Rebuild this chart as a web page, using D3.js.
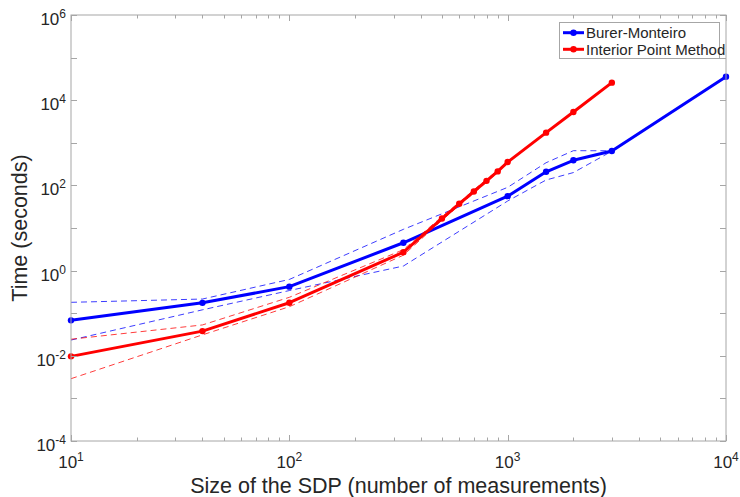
<!DOCTYPE html>
<html>
<head>
<meta charset="utf-8">
<script src="https://cdn.jsdelivr.net/npm/d3@7"></script>
<style>
html,body{margin:0;padding:0;background:#fff;}
svg{display:block;}
text{font-family:"Liberation Sans",Arial,Helvetica,sans-serif;fill:#262626;}
</style>
</head>
<body>
<svg id="chart" width="740" height="497"></svg>
<script>
// ---- data ----
const bmSizes = [10, 40, 100, 333, 1000, 1500, 2000, 3000, 10000];
const bmMean  = [0.068, 0.175, 0.42, 4.5, 56, 209, 389, 642, 35500];
const bmRangeSizes = [10, 40, 100, 333, 1000, 1500, 2000, 3000];
const bmMax   = [0.18, 0.215, 0.62, 9.3, 90, 341, 653, 650];
const bmMin   = [0.0234, 0.12, 0.34, 1.28, 43, 134, 200, 635];

const ipmSizes = [10, 40, 100, 333, 500, 600, 700, 800, 900, 1000, 1500, 2000, 3000];
const ipmMean  = [0.0097, 0.038, 0.176, 2.7, 16.7, 37, 72, 128, 213, 353, 1730, 5300, 25800];
const ipmRangeSizes = [10, 40, 100, 333, 500, 600, 700, 800, 900, 1000];
const ipmMax   = [0.0245, 0.053, 0.236, 3.1, 18.5, 40, 78, 138, 226, 362];
const ipmMin   = [0.0029, 0.031, 0.142, 2.3, 15.2, 34, 66, 119, 201, 345];

const xTickExps = [1, 2, 3, 4];
const yTickExps = [-4, -2, 0, 2, 4, 6];
const seriesNames = ["Burer-Monteiro", "Interior Point Method"];
const seriesColors = ["#0000ff", "#ff0000"];

// ---- layout ----
const svg = d3.select("#chart");
const L = 71, T = 15, R = 726, B = 441;
const x = d3.scaleLog().domain([10, 1e4]).range([L, R]);
const y = d3.scaleLog().domain([1e-4, 1e6]).range([B, T]);
const axisColor = "#a6a6a6";

const pts = (xs, ys) => xs.map((v, i) => [v, ys[i]]);
const line = d3.line().x(d => x(d[0])).y(d => y(d[1]));

const plot = svg.append("g");

function dashed(xs, ys, color) {
  plot.append("path").datum(pts(xs, ys)).attr("d", line)
    .attr("fill", "none").attr("stroke", color).attr("stroke-width", 0.9)
    .attr("stroke-dasharray", "6,4").attr("opacity", 0.85);
}
function solid(xs, ys, color) {
  const data = pts(xs, ys);
  plot.append("path").datum(data).attr("d", line)
    .attr("fill", "none").attr("stroke", color).attr("stroke-width", 3)
    .attr("stroke-linejoin", "round");
  plot.selectAll(null).data(data).enter().append("circle")
    .attr("cx", d => x(d[0])).attr("cy", d => y(d[1])).attr("r", 3.2)
    .attr("fill", color);
}
solid(bmSizes, bmMean, seriesColors[0]);
dashed(bmRangeSizes, bmMax, seriesColors[0]);
dashed(bmRangeSizes, bmMin, seriesColors[0]);
solid(ipmSizes, ipmMean, seriesColors[1]);
dashed(ipmRangeSizes, ipmMax, seriesColors[1]);
dashed(ipmRangeSizes, ipmMin, seriesColors[1]);

// ---- axes box & ticks ----
const ax = svg.append("g");
ax.append("rect").attr("x", L).attr("y", T).attr("width", R - L).attr("height", B - T)
  .attr("fill", "none").attr("stroke", axisColor).attr("stroke-width", 1);

function isMajor(v) { return Math.abs(Math.log10(v) - Math.round(Math.log10(v))) < 1e-9; }

x.ticks().forEach(v => {
  const len = isMajor(v) ? 6 : 3.5;
  const px = Math.round(x(v)) + 0.5;
  ax.append("line").attr("x1", px).attr("x2", px).attr("y1", B).attr("y2", B - len)
    .attr("stroke", axisColor);
  ax.append("line").attr("x1", px).attr("x2", px).attr("y1", T).attr("y2", T + len)
    .attr("stroke", axisColor);
});
y.ticks().forEach(v => {
  const len = isMajor(v) ? 6 : 3.5;
  const py = Math.round(y(v)) + 0.5;
  ax.append("line").attr("y1", py).attr("y2", py).attr("x1", L).attr("x2", L + len)
    .attr("stroke", axisColor);
  ax.append("line").attr("y1", py).attr("y2", py).attr("x1", R).attr("x2", R - len)
    .attr("stroke", axisColor);
});

// tick labels
xTickExps.forEach(e => {
  const t = ax.append("text").attr("x", x(Math.pow(10, e))).attr("y", 468)
    .attr("text-anchor", "middle").attr("font-size", 17);
  t.append("tspan").text("10");
  t.append("tspan").attr("font-size", 12).attr("dy", -7).text(String(e));
});
yTickExps.forEach(e => {
  const t = ax.append("text").attr("x", 66).attr("y", y(Math.pow(10, e)) + 10)
    .attr("text-anchor", "end").attr("font-size", 17);
  t.append("tspan").text("10");
  t.append("tspan").attr("font-size", 12).attr("dy", -7).text(e < 0 ? "-" + Math.abs(e) : String(e));
});

// axis titles
svg.append("text").attr("x", (L + R) / 2).attr("y", 493).attr("text-anchor", "middle")
  .attr("font-size", 21.5).text("Size of the SDP (number of measurements)");
svg.append("text").attr("transform", `translate(27,${(T + B) / 2}) rotate(-90)`)
  .attr("text-anchor", "middle").attr("font-size", 21.5).text("Time (seconds)");

// ---- legend ----
const lg = svg.append("g");
lg.append("rect").attr("x", 559.5).attr("y", 22.5).attr("width", 160).attr("height", 36)
  .attr("fill", "#fff").attr("stroke", axisColor);
seriesNames.forEach((name, i) => {
  const ly = 32.7 + i * 16.6;
  lg.append("line").attr("x1", 563).attr("x2", 584).attr("y1", ly).attr("y2", ly)
    .attr("stroke", seriesColors[i]).attr("stroke-width", 3);
  lg.append("circle").attr("cx", 573.5).attr("cy", ly).attr("r", 3.2).attr("fill", seriesColors[i]);
  lg.append("text").attr("x", 586).attr("y", ly + 5.2).attr("font-size", 15).text(name);
});
</script>
</body>
</html>
